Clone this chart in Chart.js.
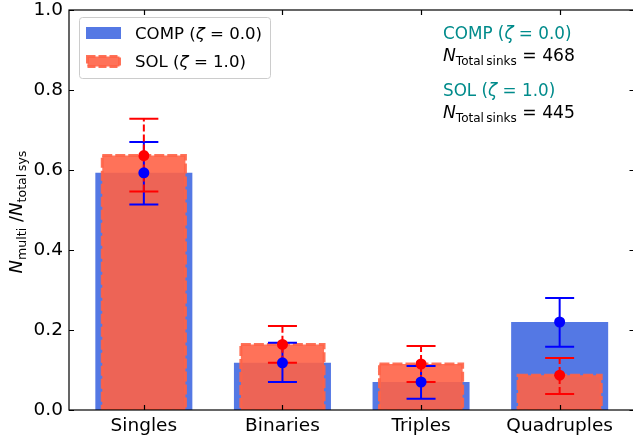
<!DOCTYPE html>
<html>
<head>
<meta charset="utf-8">
<script src="https://cdn.jsdelivr.net/npm/chart.js@4"></script>
<style>
  html, body { margin: 0; padding: 0; overflow: hidden; background: #fff; }
  #wrap { width: 640px; height: 438px; }
</style>
</head>
<body>
<div id="wrap"><canvas id="chart" width="640" height="438"></canvas></div>
<script>
// data
const categories = ["Singles", "Binaries", "Triples", "Quadruples"];
const compFrac = [0.593, 0.118, 0.070, 0.220];
const compLo   = [0.514, 0.070, 0.028, 0.158];
const compHi   = [0.670, 0.168, 0.110, 0.280];
const solFrac  = [0.636, 0.164, 0.115, 0.087];
const solLo    = [0.546, 0.118, 0.070, 0.040];
const solHi    = [0.728, 0.210, 0.160, 0.130];
const yTicks   = [0, 0.2, 0.4, 0.6, 0.8, 1.0];
const compSinks = 468;
const solSinks = 445;

const FONT = '"DejaVu Sans", sans-serif';
const BLUE_BAR = "rgba(65,105,225,0.9)";
const RED_BAR = "rgba(255,99,71,0.9)";
const TEAL = "#008b8b";

Chart.defaults.font.family = FONT;
Chart.defaults.font.size = 18;
Chart.defaults.color = "#000";

// mathtext-ish drawing: parts = [{t, it, sub}]
function mathWidth(ctx, parts, size) {
  let w = 0;
  parts.forEach((p) => {
    const s = p.sub ? size * 0.7 : size;
    ctx.font = (p.it ? "oblique " : "") + s + "px " + FONT;
    w += ctx.measureText(p.t).width;
  });
  return w;
}
function drawMath(ctx, parts, x, y, size, color) {
  ctx.fillStyle = color;
  ctx.textBaseline = "alphabetic";
  ctx.textAlign = "left";
  parts.forEach((p) => {
    const s = p.sub ? size * 0.7 : size;
    ctx.font = (p.it ? "oblique " : "") + s + "px " + FONT;
    ctx.fillText(p.t, x, p.sub ? y + size * 0.22 : y);
    x += ctx.measureText(p.t).width;
  });
}

function zetaParts(name, z) {
  return [{ t: name + " (" }, { t: "\u03b6", it: true }, { t: " = " + z + ")" }];
}

// dashed edge + error bars, drawn after the red bars
const errorBarPlugin = {
  id: "errorBars",
  afterDatasetDraw(chart, args) {
    if (args.index !== 1) return;
    const ctx = chart.ctx;
    const { x, y } = chart.scales;
    const area = chart.chartArea;
    ctx.save();
    ctx.beginPath();
    ctx.rect(area.left, area.top - 5, area.right - area.left, area.bottom - area.top + 5);
    ctx.clip();
    // dashed edges of SOL bars
    ctx.strokeStyle = RED_BAR;
    ctx.lineWidth = 3;
    ctx.setLineDash([10, 3]);
    args.meta.data.forEach((el) => {
      const p = el.getProps(["x", "y", "base", "width"], true);
      ctx.strokeRect(p.x - p.width / 2, p.y, p.width, p.base - p.y);
    });
    ctx.restore();

    const drawErr = (lo, hi, color, dash) => {
      ctx.save();
      ctx.strokeStyle = color;
      ctx.lineWidth = 2;
      categories.forEach((c, i) => {
        const px = x.getPixelForValue(i);
        const y1 = y.getPixelForValue(lo[i]);
        const y2 = y.getPixelForValue(hi[i]);
        ctx.setLineDash(dash);
        ctx.beginPath();
        ctx.moveTo(px, y1);
        ctx.lineTo(px, y2);
        ctx.stroke();
        ctx.setLineDash([]);
        ctx.beginPath();
        ctx.moveTo(px - 14.5, y1); ctx.lineTo(px + 14.5, y1);
        ctx.moveTo(px - 14.5, y2); ctx.lineTo(px + 14.5, y2);
        ctx.stroke();
      });
      ctx.restore();
    };
    drawErr(compLo, compHi, "#0000ff", []);
    drawErr(solLo, solHi, "#ff0000", [7, 3]);
  },
};

// spines, inward ticks, labels, legend, annotations
const framePlugin = {
  id: "frame",
  afterDatasetsDraw(chart) {
    const ctx = chart.ctx;
    const a = chart.chartArea;
    const { x, y } = chart.scales;
    ctx.save();
    ctx.strokeStyle = "#000";
    ctx.lineWidth = 1.2;
    ctx.strokeRect(a.left, a.top, a.right - a.left, a.bottom - a.top);
    ctx.beginPath();
    categories.forEach((c, i) => {
      const px = Math.round(x.getPixelForValue(i)) + 0.5;
      ctx.moveTo(px, a.bottom); ctx.lineTo(px, a.bottom - 5);
      ctx.moveTo(px, a.top); ctx.lineTo(px, a.top + 5);
    });
    yTicks.forEach((v) => {
      const py = Math.round(y.getPixelForValue(v)) + 0.5;
      ctx.moveTo(a.left, py); ctx.lineTo(a.left + 5, py);
      ctx.moveTo(a.right, py); ctx.lineTo(a.right - 5, py);
    });
    ctx.stroke();
    ctx.restore();
  },
  afterDraw(chart) {
    const ctx = chart.ctx;
    ctx.save();
    // y axis title
    const yParts = [
      { t: "N", it: true }, { t: "multi", sub: true }, { t: " /" },
      { t: "N", it: true }, { t: "total\u2009sys", sub: true },
    ];
    const w = mathWidth(ctx, yParts, 18);
    ctx.save();
    ctx.translate(22, 212);
    ctx.rotate(-Math.PI / 2);
    drawMath(ctx, yParts, -w / 2, 0, 18, "#000");
    ctx.restore();

    // legend
    ctx.fillStyle = "rgba(255,255,255,0.8)";
    ctx.strokeStyle = "#cccccc";
    ctx.lineWidth = 1;
    ctx.beginPath();
    ctx.roundRect(79.5, 17.5, 191, 61, 3);
    ctx.fill();
    ctx.stroke();
    ctx.fillStyle = BLUE_BAR;
    ctx.fillRect(86, 27, 35, 12);
    ctx.fillStyle = RED_BAR;
    ctx.fillRect(87.5, 56.5, 32, 10);
    ctx.strokeStyle = RED_BAR;
    ctx.lineWidth = 3;
    ctx.setLineDash([8, 3]);
    ctx.strokeRect(87.5, 56.5, 32, 10);
    ctx.setLineDash([]);
    drawMath(ctx, zetaParts("COMP", "0.0"), 135, 39, 16.6, "#000");
    drawMath(ctx, zetaParts("SOL", "1.0"), 135, 67, 16.6, "#000");

    // annotations
    drawMath(ctx, zetaParts("COMP", "0.0"), 443, 39, 16.8, TEAL);
    drawMath(ctx, [{ t: "N", it: true }, { t: "Total\u2009sinks", sub: true }, { t: " = " + compSinks }], 443, 61, 17.2, "#000");
    drawMath(ctx, zetaParts("SOL", "1.0"), 443, 96, 16.8, TEAL);
    drawMath(ctx, [{ t: "N", it: true }, { t: "Total\u2009sinks", sub: true }, { t: " = " + solSinks }], 443, 118, 17.2, "#000");
    ctx.restore();
  },
};

const pts = (arr) => arr.map((v, i) => ({ x: i, y: v }));

new Chart(document.getElementById("chart"), {
  type: "bar",
  data: {
    datasets: [
      { type: "bar", data: pts(compFrac), backgroundColor: BLUE_BAR, borderWidth: 0,
        grouped: false, barPercentage: 0.7, categoryPercentage: 1, order: 4 },
      { type: "bar", data: pts(solFrac), backgroundColor: RED_BAR, borderWidth: 0,
        grouped: false, barPercentage: 0.6, categoryPercentage: 1, order: 3 },
      { type: "scatter", data: pts(compFrac), pointRadius: 5.5, pointBackgroundColor: "#0000ff",
        pointBorderWidth: 0, order: 2 },
      { type: "scatter", data: pts(solFrac), pointRadius: 5.5, pointBackgroundColor: "#ff0000",
        pointBorderWidth: 0, order: 1 },
    ],
  },
  options: {
    responsive: false,
    animation: false,
    devicePixelRatio: 1,
    layout: { padding: { top: 10, right: 3, left: 0, bottom: 0 } },
    plugins: { legend: { display: false }, tooltip: { enabled: false } },
    scales: {
      x: {
        type: "linear",
        offset: false,
        min: -0.54,
        max: 3.54,
        grid: { display: false, drawTicks: false },
        border: { display: false },
        afterBuildTicks: (s) => { s.ticks = categories.map((c, i) => ({ value: i })); },
        afterFit: (s) => { s.height = 28; s.paddingLeft = 0; s.paddingRight = 0; },
        ticks: { padding: 5, callback: (v) => categories[v] ?? "", font: { size: 18.5 } },
      },
      y: {
        min: 0,
        max: 1,
        grid: { display: false, drawTicks: false },
        border: { display: false },
        afterBuildTicks: (s) => { s.ticks = yTicks.map((v) => ({ value: v })); },
        afterFit: (s) => { s.width = 69; s.paddingTop = 0; s.paddingBottom = 0; },
        ticks: { padding: 6, callback: (v) => v.toFixed(1), font: { size: 18.5 } },
      },
    },
  },
  plugins: [errorBarPlugin, framePlugin],
});
</script>
</body>
</html>
